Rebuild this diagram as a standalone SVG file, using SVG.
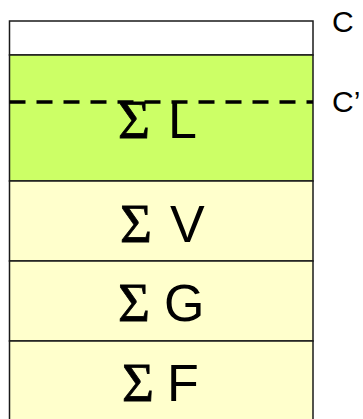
<svg xmlns="http://www.w3.org/2000/svg" width="363" height="419" viewBox="0 0 363 419">
  <style>
    .band { stroke: #1a1a1a; stroke-width: 1.5; }
    .empty { fill: #ffffff; }
    .liquid { fill: #ccff66; }
    .solid { fill: #ffffcc; }
    .sig { font-family: "Liberation Serif", "Times New Roman", serif; font-size: 55px; fill: #000; stroke: #000; stroke-width: 0.8; }
    .sym { font-family: "Liberation Sans", Arial, sans-serif; font-size: 52px; fill: #000; }
    .lbl { font-family: "Liberation Sans", Arial, sans-serif; font-size: 30px; fill: #000; }
    .level { stroke: #000; stroke-width: 3.5; stroke-dasharray: 16 11; fill: none; }
  </style>

  <!-- top free space -->
  <g id="band-empty">
    <rect class="band empty" x="9.5" y="21" width="303.5" height="34"/>
  </g>

  <!-- sum L -->
  <g id="band-L">
    <rect class="band liquid" x="9.5" y="55" width="303.5" height="126"/>
    <text y="138.3"><tspan class="sig" x="118">Σ</tspan><tspan class="sym" x="168">L</tspan></text>
  </g>

  <!-- sum V -->
  <g id="band-V">
    <rect class="band solid" x="9.5" y="181" width="303.5" height="80"/>
    <text y="241.7"><tspan class="sig" x="120">Σ</tspan><tspan class="sym" x="170">V</tspan></text>
  </g>

  <!-- sum G -->
  <g id="band-G">
    <rect class="band solid" x="9.5" y="261" width="303.5" height="80"/>
    <text y="320.7"><tspan class="sig" x="118">Σ</tspan><tspan class="sym" x="164">G</tspan></text>
  </g>

  <!-- sum F -->
  <g id="band-F">
    <rect class="band solid" x="9.5" y="341" width="303.5" height="90"/>
    <text y="400.7"><tspan class="sig" x="122">Σ</tspan><tspan class="sym" x="167">F</tspan></text>
  </g>

  <!-- level marker and labels -->
  <g id="connectors">
    <line class="level" x1="9.5" y1="102" x2="313" y2="102"/>
  </g>
  <g id="label-C">
    <text class="lbl" x="332" y="32">C</text>
  </g>
  <g id="label-C-prime">
    <text class="lbl" x="332" y="111.5">C’</text>
  </g>
</svg>
